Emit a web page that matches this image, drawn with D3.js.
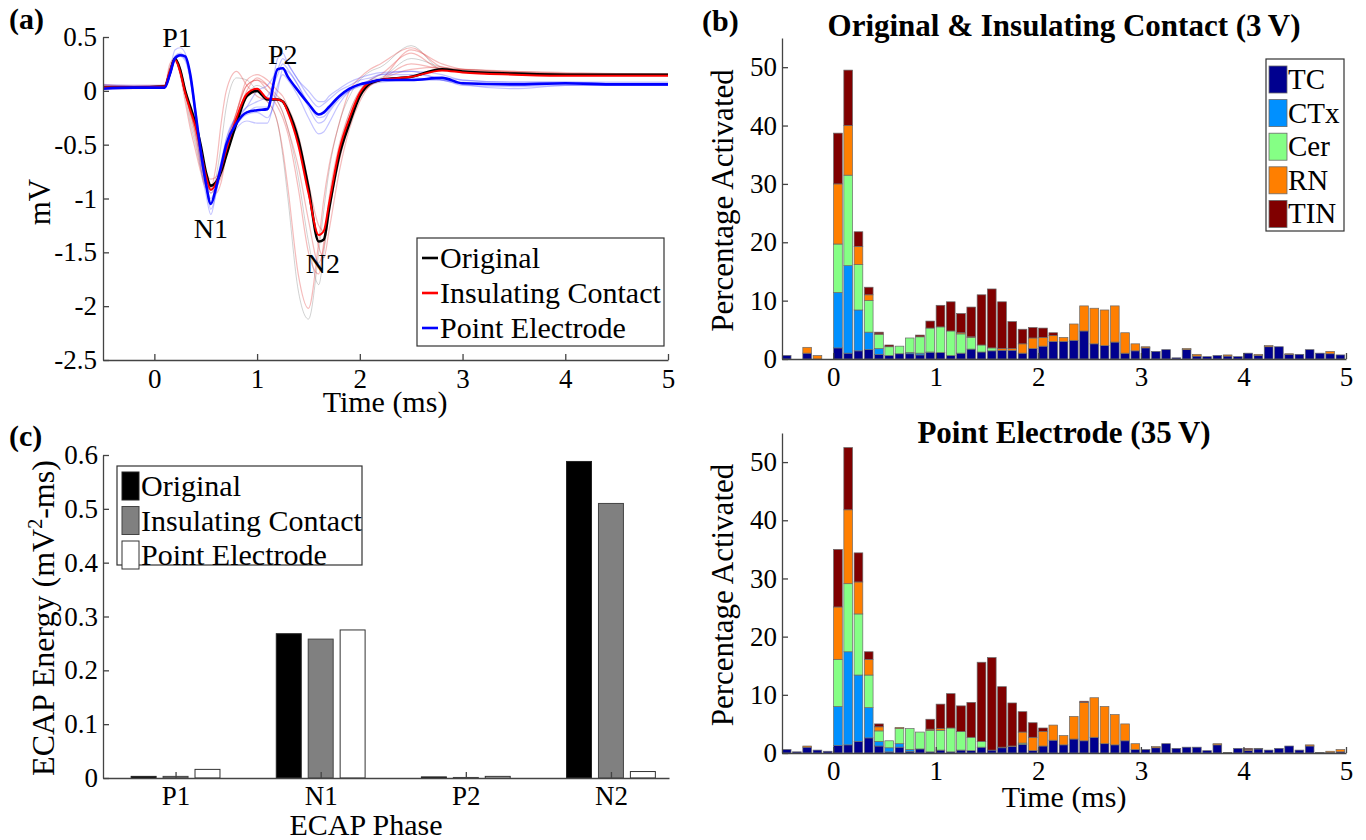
<!DOCTYPE html>
<html>
<head>
<meta charset="utf-8">
<script src="https://cdn.jsdelivr.net/npm/d3@7"></script>
<style>
  body { margin: 0; background: #fff; }
  svg { display: block; font-family: "Liberation Serif", "Times New Roman", serif; }
  .axis path, .axis line { stroke: #444; stroke-width: 1.3; }
  .axis text { font-size: 27px; fill: #000; font-family: "Liberation Serif", "Times New Roman", serif; }
</style>
</head>
<body>
<svg id="fig" width="1366" height="840"></svg>
<script>
// ---------- (a) ECAP waveforms ----------
const waveT = [-0.5, -0.2, 0.1, 0.15, 0.2, 0.25, 0.3, 0.35, 0.4, 0.45,
  0.5, 0.55, 0.6, 0.65, 0.7, 0.8, 0.9, 1.0, 1.1, 1.2,
  1.25, 1.3, 1.4, 1.5, 1.6, 1.65, 1.7, 1.8, 1.9, 2.0,
  2.1, 2.2, 2.5, 2.8, 3.0, 3.5, 4.0, 4.5, 5.0];

const waveOriginal = [0.03, 0.03, 0.04, 0.16, 0.3, 0.2, 0.0, -0.15, -0.3, -0.5,
  -0.75, -0.88, -0.85, -0.75, -0.6, -0.3, -0.05, 0.0, -0.08, -0.08,
  -0.1, -0.18, -0.45, -0.9, -1.4, -1.38, -1.1, -0.6, -0.3, -0.05,
  0.07, 0.1, 0.13, 0.2, 0.18, 0.16, 0.15, 0.15, 0.15];
const waveInsulating = [0.03, 0.03, 0.04, 0.18, 0.29, 0.18, -0.02, -0.18, -0.33, -0.55,
  -0.78, -0.92, -0.86, -0.72, -0.55, -0.25, -0.03, 0.02, -0.07, -0.08,
  -0.1, -0.2, -0.5, -0.95, -1.34, -1.3, -1.05, -0.55, -0.25, -0.02,
  0.08, 0.1, 0.13, 0.19, 0.17, 0.15, 0.14, 0.14, 0.14];
const wavePoint = [0.02, 0.03, 0.03, 0.15, 0.3, 0.33, 0.32, 0.15, -0.2, -0.55,
  -0.85, -1.05, -0.9, -0.7, -0.5, -0.3, -0.2, -0.18, -0.17, 0.2,
  0.21, 0.13, 0.0, -0.12, -0.22, -0.2, -0.15, -0.05, 0.02, 0.06,
  0.08, 0.1, 0.1, 0.12, 0.07, 0.06, 0.07, 0.06, 0.06];

// individual traces (thin)
const thinRed = [
  [0.06, 0.04, 0.05, 0.25, 0.3, 0.15, -0.1, -0.35, -0.55, -0.75, -0.9, -0.9, -0.7, -0.3, 0.0, 0.18, 0.05, -0.05, -0.1, -0.3, -0.55, -0.9, -1.7, -2.02, -1.4, -1.0, -0.7, -0.3, 0.0, 0.12, 0.2, 0.25, 0.4, 0.22, 0.2, 0.18, 0.17, 0.16, 0.16],
  [0.04, 0.04, 0.05, 0.2, 0.28, 0.2, 0.0, -0.2, -0.4, -0.65, -0.85, -0.95, -0.9, -0.8, -0.6, -0.2, 0.05, 0.1, 0.0, -0.15, -0.25, -0.4, -0.9, -1.5, -1.7, -1.4, -1.0, -0.5, -0.2, 0.0, 0.1, 0.15, 0.35, 0.2, 0.2, 0.18, 0.16, 0.15, 0.15],
  [0.02, 0.02, 0.03, 0.18, 0.27, 0.2, 0.02, -0.15, -0.3, -0.55, -0.75, -0.82, -0.8, -0.7, -0.5, -0.2, 0.05, 0.1, 0.05, -0.05, -0.1, -0.2, -0.45, -0.9, -1.45, -1.55, -1.3, -0.75, -0.35, -0.1, 0.05, 0.1, 0.2, 0.22, 0.18, 0.17, 0.15, 0.15, 0.15],
  [0.05, 0.05, 0.05, 0.2, 0.3, 0.22, 0.0, -0.25, -0.45, -0.7, -0.88, -0.9, -0.95, -0.85, -0.6, -0.25, 0.0, 0.12, 0.05, -0.1, -0.2, -0.35, -0.7, -1.2, -1.6, -1.45, -1.15, -0.6, -0.25, -0.05, 0.05, 0.1, 0.38, 0.25, 0.2, 0.17, 0.16, 0.16, 0.15],
  [0.03, 0.03, 0.04, 0.2, 0.3, 0.2, -0.02, -0.2, -0.38, -0.6, -0.82, -0.88, -0.84, -0.72, -0.5, -0.2, 0.1, 0.15, 0.1, 0.0, -0.05, -0.15, -0.4, -0.85, -1.25, -1.3, -1.1, -0.65, -0.3, -0.05, 0.05, 0.1, 0.25, 0.2, 0.18, 0.16, 0.15, 0.15, 0.14]
];
const thinGray = [
  [0.05, 0.04, 0.05, 0.22, 0.3, 0.18, -0.05, -0.3, -0.5, -0.72, -0.88, -0.92, -0.8, -0.5, -0.15, 0.12, 0.1, 0.0, -0.1, -0.3, -0.6, -1.0, -1.85, -2.12, -1.5, -1.1, -0.75, -0.3, -0.05, 0.1, 0.18, 0.22, 0.42, 0.2, 0.2, 0.17, 0.16, 0.16, 0.16],
  [0.04, 0.03, 0.04, 0.2, 0.3, 0.2, 0.0, -0.2, -0.4, -0.65, -0.85, -0.92, -0.88, -0.78, -0.6, -0.3, -0.05, 0.05, 0.0, -0.1, -0.2, -0.35, -0.8, -1.4, -1.8, -1.5, -1.1, -0.55, -0.2, 0.0, 0.1, 0.12, 0.3, 0.22, 0.19, 0.17, 0.16, 0.15, 0.15]
];
const thinBlue = [
  [0.05, 0.04, 0.04, 0.18, 0.38, 0.4, 0.35, 0.1, -0.25, -0.7, -0.95, -1.15, -0.95, -0.7, -0.45, -0.25, -0.2, -0.15, -0.15, 0.3, 0.35, 0.25, 0.1, -0.05, -0.15, -0.12, -0.08, 0.0, 0.05, 0.1, 0.12, 0.15, 0.15, 0.12, 0.1, 0.08, 0.08, 0.07, 0.07],
  [0.03, 0.03, 0.03, 0.15, 0.32, 0.35, 0.3, 0.12, -0.2, -0.55, -0.8, -0.95, -0.85, -0.65, -0.45, -0.25, -0.15, -0.1, -0.05, 0.15, 0.25, 0.2, 0.05, -0.15, -0.3, -0.28, -0.2, -0.08, 0.0, 0.05, 0.08, 0.1, 0.12, 0.1, 0.08, 0.06, 0.06, 0.06, 0.05],
  [0.04, 0.03, 0.03, 0.14, 0.3, 0.33, 0.3, 0.15, -0.15, -0.55, -0.85, -1.0, -0.9, -0.75, -0.55, -0.35, -0.28, -0.3, -0.3, 0.05, 0.15, 0.1, -0.05, -0.25, -0.4, -0.38, -0.3, -0.12, 0.0, 0.06, 0.1, 0.15, 0.18, 0.1, 0.06, 0.02, 0.05, 0.05, 0.05],
  [0.06, 0.05, 0.05, 0.16, 0.3, 0.32, 0.28, 0.1, -0.2, -0.6, -0.85, -1.1, -0.95, -0.7, -0.5, -0.28, -0.15, 0.0, 0.05, 0.2, 0.3, 0.25, 0.1, 0.0, -0.1, -0.1, -0.05, 0.02, 0.08, 0.12, 0.15, 0.17, 0.18, 0.15, 0.1, 0.08, 0.08, 0.08, 0.08],
  [0.03, 0.03, 0.03, 0.15, 0.32, 0.34, 0.33, 0.15, -0.18, -0.6, -0.88, -1.05, -0.92, -0.72, -0.52, -0.32, -0.22, -0.2, -0.25, 0.0, 0.2, 0.18, 0.05, -0.12, -0.25, -0.24, -0.18, -0.06, 0.0, 0.04, 0.06, 0.08, 0.1, 0.1, 0.05, 0.04, 0.05, 0.05, 0.05]
];

const waveNames = ["Original", "Insulating Contact", "Point Electrode"];
const peakLabels = ["P1", "N1", "P2", "N2"];
const peakLabelT = [0.22, 0.55, 1.25, 1.64];
const peakLabelV = [0.41, -1.37, 0.25, -1.69];

// ---------- (b) activation histograms ----------
const cellTypes = ["TC", "CTx", "Cer", "RN", "TIN"];
const binStart = [-0.5, -0.4, -0.3, -0.2, -0.1, 0.0, 0.1, 0.2, 0.3, 0.4,
  0.5, 0.6, 0.7, 0.8, 0.9, 1.0, 1.1, 1.2, 1.3, 1.4,
  1.5, 1.6, 1.7, 1.8, 1.9, 2.0, 2.1, 2.2, 2.3, 2.4,
  2.5, 2.6, 2.7, 2.8, 2.9, 3.0, 3.1, 3.2, 3.3, 3.4,
  3.5, 3.6, 3.7, 3.8, 3.9, 4.0, 4.1, 4.2, 4.3, 4.4,
  4.5, 4.6, 4.7, 4.8, 4.9];

const topTC = [0.6, 0, 1.0, 0, 0, 1.9, 1.0, 1.4, 1.6, 0.8,
  0.6, 0.9, 0.9, 0.7, 1.1, 1.1, 0.6, 1.0, 1.7, 1.2,
  1.4, 1.5, 1.5, 1.0, 1.8, 2.2, 3.0, 3.0, 3.2, 4.8,
  2.6, 2.3, 2.9, 1.0, 1.4, 1.9, 1.3, 1.6, 0.2, 1.6,
  0.5, 0.4, 0.6, 0.5, 0.4, 1.0, 0.6, 2.1, 2.1, 0.8,
  0.8, 1.6, 1.0, 0.9, 0.7];
const topCTx = [0, 0, 0, 0, 0, 9.5, 15.0, 7.0, 3.0, 1.0,
  0, 0, 0.2, 0.3, 0.1, 0, 0, 0, 0, 0,
  0, 0, 0, 0, 0, 0, 0, 0, 0, 0,
  0, 0, 0, 0, 0, 0, 0, 0, 0, 0,
  0, 0, 0, 0, 0, 0, 0, 0, 0, 0,
  0, 0, 0, 0, 0];
const topCer = [0, 0, 0, 0, 0, 8.3, 15.5, 7.8, 5.4, 2.4,
  1.5, 1.3, 2.5, 2.8, 4.1, 4.4, 4.2, 3.3, 2.0, 1.2,
  0.5, 0, 0, 0, 0, 0, 0, 0, 0, 0,
  0, 0, 0, 0, 0, 0, 0, 0, 0, 0,
  0, 0, 0, 0, 0, 0, 0, 0, 0, 0,
  0, 0, 0, 0, 0];
const topRN = [0, 0, 1.0, 0.6, 0, 10.3, 8.5, 3.1, 1.0, 0.1,
  0, 0, 0, 0, 0, 0, 0, 0.2, 0.1, 0,
  0, 0.3, 0.3, 1.6, 1.8, 1.5, 1.0, 0.7, 2.8, 4.3,
  6.1, 6.1, 6.2, 3.5, 1.2, 0.2, 0, 0, 0, 0.2,
  0.3, 0, 0, 0.2, 0, 0, 0.2, 0.2, 0, 0.1,
  0, 0, 0, 0.4, 0];
const topTIN = [0, 0, 0, 0, 0, 8.7, 9.5, 2.5, 1.3, 0.3,
  0.3, 0, 0, 0.3, 1.2, 3.7, 5.0, 3.3, 5.1, 8.6,
  10.1, 8.0, 4.6, 2.5, 1.8, 1.6, 0.5, 0, 0, 0,
  0, 0, 0, 0, 0, 0, 0, 0, 0, 0,
  0, 0, 0, 0, 0, 0, 0, 0, 0, 0,
  0, 0, 0, 0, 0];

const botTC = [0.6, 0.2, 1.0, 0.5, 0.3, 1.3, 1.4, 2.0, 2.6, 1.2,
  0.2, 1.0, 0.3, 0.7, 0.2, 0.5, 0.2, 0.5, 0.4, 1.0,
  0.5, 0.9, 1.1, 1.5, 0.4, 1.2, 2.2, 1.4, 2.4, 2.1,
  2.7, 1.6, 1.4, 2.1, 0.6, 0.6, 0.9, 1.6, 0.8, 1.0,
  1.0, 0.4, 1.4, 0.1, 0.8, 0.4, 0.7, 0.5, 0.8, 1.2,
  0.5, 1.2, 0.1, 0.1, 0.2];
const botCTx = [0, 0, 0, 0, 0, 6.7, 16.0, 11.4, 5.2, 0.8,
  0.7, 0.6, 0.3, 0, 0, 0, 0, 0, 0, 0,
  0, 0, 0, 0, 0, 0, 0, 0, 0, 0,
  0, 0, 0, 0, 0, 0, 0, 0, 0, 0,
  0, 0, 0, 0, 0, 0, 0, 0, 0, 0,
  0, 0, 0, 0, 0];
const botCer = [0, 0, 0, 0, 0, 8.1, 11.7, 10.5, 5.6, 1.8,
  1.2, 2.6, 3.6, 2.9, 3.7, 3.4, 4.1, 3.2, 2.3, 1.0,
  0, 0, 0, 0.2, 0, 0, 0, 0, 0, 0,
  0, 0, 0, 0, 0, 0, 0, 0, 0, 0,
  0, 0, 0, 0, 0, 0, 0, 0, 0, 0,
  0, 0, 0, 0, 0];
const botRN = [0, 0, 0.2, 0, 0, 9.0, 12.7, 5.5, 2.7, 0.7,
  0, 0.2, 0, 0, 0.2, 0.3, 0, 0, 0, 0,
  0, 0.1, 0.1, 1.9, 2.3, 2.5, 2.6, 1.6, 3.9, 6.6,
  6.8, 6.4, 5.2, 2.9, 1.0, 0, 0.2, 0, 0, 0,
  0, 0, 0.2, 0, 0, 0.2, 0, 0, 0, 0,
  0, 0.2, 0, 0.2, 0.4];
const botTIN = [0, 0, 0, 0, 0, 9.9, 10.7, 5.0, 1.3, 0.5,
  0, 0, 0, 0, 1.7, 4.2, 5.9, 4.4, 6.0, 13.6,
  15.9, 10.4, 7.4, 3.5, 2.5, 0.6, 0, 0, 0, 0.2,
  0, 0, 0, 0, 0, 0, 0, 0, 0, 0,
  0, 0, 0, 0, 0, 0.2, 0.1, 0, 0, 0,
  0, 0, 0, 0, 0];

// ---------- (c) ECAP energy ----------
const phases = ["P1", "N1", "P2", "N2"];
const energyOriginal = [0.003, 0.268, 0.002, 0.588];
const energyInsulating = [0.003, 0.258, 0.001, 0.51];
const energyPoint = [0.016, 0.275, 0.003, 0.012];

const svg = d3.select("#fig");
const FONT = '"Liberation Serif", "Times New Roman", serif';

function addText(x, y, txt, size, opts = {}) {
  return svg.append("text")
    .attr("x", x).attr("y", y)
    .attr("font-size", size + "px")
    .attr("font-family", FONT)
    .attr("fill", "#000")
    .attr("text-anchor", opts.anchor || "middle")
    .attr("font-weight", opts.bold ? "bold" : "normal")
    .text(txt);
}
function addVText(x, y, txt, size) {
  return svg.append("text")
    .attr("transform", `translate(${x},${y}) rotate(-90)`)
    .attr("font-size", size + "px")
    .attr("font-family", FONT)
    .attr("fill", "#000")
    .attr("text-anchor", "middle")
    .text(txt);
}

// ===== panel (a) =====
const xA = d3.scaleLinear().domain([-0.5, 5]).range([103, 668]);
const yA = d3.scaleLinear().domain([-2.5, 0.5]).range([360, 37]);

const lineA = d3.line()
  .x((d, i) => xA(waveT[i]))
  .y(d => yA(d))
  .curve(d3.curveMonotoneX);

const gA = svg.append("g");
thinGray.forEach(s => gA.append("path").attr("d", lineA(s))
  .attr("fill", "none").attr("stroke", "#999").attr("stroke-opacity", 0.45).attr("stroke-width", 1));
thinRed.forEach(s => gA.append("path").attr("d", lineA(s))
  .attr("fill", "none").attr("stroke", "#e23c3c").attr("stroke-opacity", 0.35).attr("stroke-width", 1.2));
thinBlue.forEach(s => gA.append("path").attr("d", lineA(s))
  .attr("fill", "none").attr("stroke", "#3c3cff").attr("stroke-opacity", 0.3).attr("stroke-width", 1.2));

const mainWaves = [waveOriginal, waveInsulating, wavePoint];
const mainColors = ["#000", "#ff0000", "#0000ff"];
const mainWidths = [2.6, 2.0, 2.6];
mainWaves.forEach((s, i) => gA.append("path").attr("d", lineA(s))
  .attr("fill", "none").attr("stroke", mainColors[i]).attr("stroke-width", mainWidths[i]));

svg.append("g").attr("class", "axis")
  .attr("transform", `translate(0,${yA(-2.5)})`)
  .call(d3.axisBottom(xA).tickValues([0, 1, 2, 3, 4, 5]).tickSize(-6).tickSizeOuter(0)
    .tickPadding(9).tickFormat(d => String(d)));
svg.append("g").attr("class", "axis")
  .attr("transform", `translate(${xA(-0.5)},0)`)
  .call(d3.axisLeft(yA).tickValues([-2.5, -2, -1.5, -1, -0.5, 0, 0.5]).tickSize(-6).tickSizeOuter(0)
    .tickPadding(6).tickFormat(d => String(d)));

peakLabels.forEach((p, i) => addText(xA(peakLabelT[i]), yA(peakLabelV[i]), p, 28));

addText(385, 412, "Time (ms)", 30);
addVText(50, 202, "mV", 31);
addText(9, 29, "(a)", 30, { anchor: "start", bold: true });

// legend (a)
const legA = svg.append("g").attr("transform", "translate(417,238)");
legA.append("rect").attr("width", 247).attr("height", 108)
  .attr("fill", "#fff").attr("stroke", "#333").attr("stroke-width", 1.2);
waveNames.forEach((n, i) => {
  const yy = 20 + i * 35;
  legA.append("line").attr("x1", 5).attr("x2", 21).attr("y1", yy).attr("y2", yy)
    .attr("stroke", mainColors[i]).attr("stroke-width", 2.6);
  legA.append("text").attr("x", 23).attr("y", yy + 10).attr("font-size", "30px")
    .attr("font-family", FONT).attr("fill", "#000").text(n);
});

// ===== panel (b) =====
const typeColors = ["#00008f", "#0090ff", "#85ff85", "#ff7f00", "#800000"];
const xB = d3.scaleLinear().domain([-0.5, 5]).range([782, 1346]);

function histPanel(series, y0, y1, title, titleY, showXLabel) {
  const yB = d3.scaleLinear().domain([0, 55]).range([y0, y1]);
  const rows = binStart.map((t, i) => {
    const r = { t };
    cellTypes.forEach((c, k) => { r[c] = series[k][i]; });
    return r;
  });
  const layers = d3.stack().keys(cellTypes)(rows);
  const g = svg.append("g");
  const bw = xB(0.085) - xB(0);
  layers.forEach((layer, k) => {
    g.selectAll(null).data(layer.filter(d => d[1] - d[0] > 0)).join("rect")
      .attr("x", d => xB(d.data.t + 0.003))
      .attr("width", bw)
      .attr("y", d => yB(d[1]))
      .attr("height", d => yB(d[0]) - yB(d[1]))
      .attr("fill", typeColors[k])
      .attr("stroke", "#6a6a6a").attr("stroke-width", 0.7);
  });
  svg.append("g").attr("class", "axis")
    .attr("transform", `translate(0,${y0})`)
    .call(d3.axisBottom(xB).tickValues([0, 1, 2, 3, 4, 5]).tickSize(-6).tickSizeOuter(0)
      .tickPadding(8).tickFormat(d => String(d)));
  svg.append("g").attr("class", "axis")
    .attr("transform", `translate(${xB(-0.5)},0)`)
    .call(d3.axisLeft(yB).tickValues([0, 10, 20, 30, 40, 50]).tickSize(-6).tickSizeOuter(0)
      .tickPadding(5).tickFormat(d => String(d)));
  addText((xB(-0.5) + xB(5)) / 2, titleY, title, 31, { bold: true });
  addVText(733, (y0 + y1) / 2 + 2, "Percentage Activated", 31);
  if (showXLabel) addText(1064, 807, "Time (ms)", 30);
}

histPanel([topTC, topCTx, topCer, topRN, topTIN], 359, 38,
  "Original & Insulating Contact (3\u2009V)", 36, false);
histPanel([botTC, botCTx, botCer, botRN, botTIN], 753, 433,
  "Point Electrode (35\u2009V)", 443, true);
addText(702, 31, "(b)", 30, { anchor: "start", bold: true });

// legend (b)
const legB = svg.append("g").attr("transform", "translate(1266,59)");
legB.append("rect").attr("width", 78).attr("height", 172)
  .attr("fill", "#fff").attr("stroke", "#333").attr("stroke-width", 1.2);
cellTypes.forEach((c, i) => {
  const yy = 20 + i * 33.6;
  legB.append("rect").attr("x", 3).attr("y", yy - 13).attr("width", 18).attr("height", 27)
    .attr("fill", typeColors[i]).attr("stroke", "#6a6a6a").attr("stroke-width", 0.8);
  legB.append("text").attr("x", 22).attr("y", yy + 10).attr("font-size", "29px")
    .attr("font-family", FONT).attr("fill", "#000").text(c);
});

// ===== panel (c) =====
const xC = d3.scaleLinear().domain([0.5, 4.4]).range([103, 669]);
const yC = d3.scaleLinear().domain([0, 0.6]).range([778, 455]);
const energySeries = [energyOriginal, energyInsulating, energyPoint];
const barFill = ["#000", "#808080", "#fff"];
const barStroke = ["#222", "#444", "#333"];
const barOffset = [-0.22, 0, 0.22];
const barW = 0.172;
const gC = svg.append("g");
energySeries.forEach((s, k) => {
  gC.selectAll(null).data(s).join("rect")
    .attr("x", (d, i) => xC(i + 1 + barOffset[k] - barW / 2))
    .attr("width", xC(barW) - xC(0))
    .attr("y", d => yC(d))
    .attr("height", d => yC(0) - yC(d))
    .attr("fill", barFill[k]).attr("stroke", barStroke[k]).attr("stroke-width", 1);
});
svg.append("g").attr("class", "axis")
  .attr("transform", `translate(0,${yC(0)})`)
  .call(d3.axisBottom(xC).tickValues([1, 2, 3, 4]).tickSize(-6).tickSizeOuter(0)
    .tickPadding(8).tickFormat(d => phases[d - 1]));
svg.append("g").attr("class", "axis")
  .attr("transform", `translate(${xC(0.5)},0)`)
  .call(d3.axisLeft(yC).tickValues([0, 0.1, 0.2, 0.3, 0.4, 0.5, 0.6]).tickSize(-6).tickSizeOuter(0)
    .tickPadding(5).tickFormat(d => String(d)));

addText(366, 835, "ECAP Phase", 30);
addText(9, 446, "(c)", 30, { anchor: "start", bold: true });
const yl = addVText(54, 618, "", 32);
yl.append("tspan").text("ECAP Energy (mV");
yl.append("tspan").attr("dy", -12).attr("font-size", "20px").text("2");
yl.append("tspan").attr("dy", 12).text("-ms)");

// legend (c)
const legC = svg.append("g").attr("transform", "translate(117,466)");
legC.append("rect").attr("width", 245).attr("height", 99)
  .attr("fill", "#fff").attr("stroke", "#333").attr("stroke-width", 1.2);
waveNames.forEach((n, i) => {
  const yy = 20 + i * 34.5;
  legC.append("rect").attr("x", 5).attr("y", yy - 14).attr("width", 17).attr("height", 28)
    .attr("fill", barFill[i]).attr("stroke", barStroke[i]).attr("stroke-width", 1);
  legC.append("text").attr("x", 24).attr("y", yy + 10).attr("font-size", "30px")
    .attr("font-family", FONT).attr("fill", "#000").text(n);
});
</script>
</body>
</html>
